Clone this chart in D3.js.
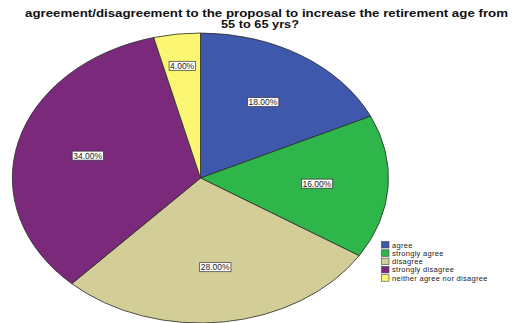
<!DOCTYPE html>
<html>
<head>
<meta charset="utf-8">
<script src="https://cdn.jsdelivr.net/npm/d3@7"></script>
<style>
  html, body { margin: 0; padding: 0; background: #fff; }
  svg { display: block; }
</style>
</head>
<body>
<svg id="chart" width="516" height="323"></svg>
<script>
// Survey responses
const categories = ["agree", "strongly agree", "disagree", "strongly disagree", "neither agree nor disagree"];
const percents = [18, 16, 28, 34, 4];
const colors = ["#3e58ac", "#2eb64a", "#d3ce97", "#7b2a7b", "#fbf773"];
const titleLines = ["agreement/disagreement to the proposal to increase the retirement age from", "55 to 65 yrs?"];

const svg = d3.select("#chart");

// Title (two wrapped lines in a wide bold face)
const titleSpec = [
  { x: 266.5, y: 17, len: 483 },
  { x: 260, y: 27.5, len: 78 }
];
svg.append("g")
  .selectAll("text")
  .data(titleLines)
  .join("text")
  .attr("x", (d, i) => titleSpec[i].x)
  .attr("y", (d, i) => titleSpec[i].y)
  .attr("text-anchor", "middle")
  .attr("textLength", (d, i) => titleSpec[i].len)
  .attr("lengthAdjust", "spacingAndGlyphs")
  .attr("font-family", "Liberation Sans, Arial, sans-serif")
  .attr("font-weight", "bold")
  .attr("font-size", 10)
  .attr("fill", "#111")
  .text(d => d);

// Elliptical pie: drawn on a unit circle and stretched
const cx = 200.5, cy = 178, rx = 188, ry = 145;

const pie = d3.pie().sort(null).value(d => d.value).startAngle(0).endAngle(2 * Math.PI);
const data = categories.map((c, i) => ({ name: c, value: percents[i], color: colors[i] }));
const arcs = pie(data);

const arc = d3.arc().innerRadius(0).outerRadius(1);

const pieG = svg.append("g")
  .attr("transform", `translate(${cx},${cy}) scale(${rx},${ry})`);

pieG.selectAll("path")
  .data(arcs)
  .join("path")
  .attr("d", arc)
  .attr("fill", d => d.data.color)
  .attr("stroke", "#2a2a2a")
  .attr("stroke-width", 0.8)
  .attr("vector-effect", "non-scaling-stroke");

// Percentage labels
const fmt = d3.format(".2f");
const labelG = svg.append("g");
arcs.forEach(d => {
  const frac = d.data.value / 100;
  const r = frac < 0.08 ? 0.78 : 0.62;
  const a = (d.startAngle + d.endAngle) / 2;
  const x = cx + rx * r * Math.sin(a);
  const y = cy - ry * r * Math.cos(a);
  const txt = fmt(d.data.value) + "%";
  const g = labelG.append("g").attr("transform", `translate(${x},${y})`);
  const t = g.append("text")
    .attr("text-anchor", "middle")
    .attr("dy", "0.35em")
    .attr("font-family", "Liberation Sans, Arial, sans-serif")
    .attr("font-size", 8.5)
    .attr("fill", "#222")
    .text(txt);
  const bb = t.node().getBBox();
  g.insert("rect", "text")
    .attr("x", bb.x - 1)
    .attr("y", -4.5)
    .attr("width", bb.width + 2)
    .attr("height", 9)
    .attr("fill", "#fff")
    .attr("stroke", "#333")
    .attr("stroke-width", 0.7);
});

// Legend
const legend = svg.append("g").attr("transform", "translate(381.5,241.5)");
const rows = legend.selectAll("g")
  .data(data)
  .join("g")
  .attr("transform", (d, i) => `translate(0,${i * 8.3})`);
rows.append("rect")
  .attr("width", 7.5)
  .attr("height", 6.5)
  .attr("fill", d => d.color)
  .attr("stroke", "#444")
  .attr("stroke-width", 0.6);
rows.append("text")
  .attr("x", 10.5)
  .attr("y", 6)
  .attr("font-family", "Liberation Sans, Arial, sans-serif")
  .attr("font-size", 7.5)
  .attr("letter-spacing", 0.3)
  .attr("fill", "#222")
  .text(d => d.name);
</script>
</body>
</html>
